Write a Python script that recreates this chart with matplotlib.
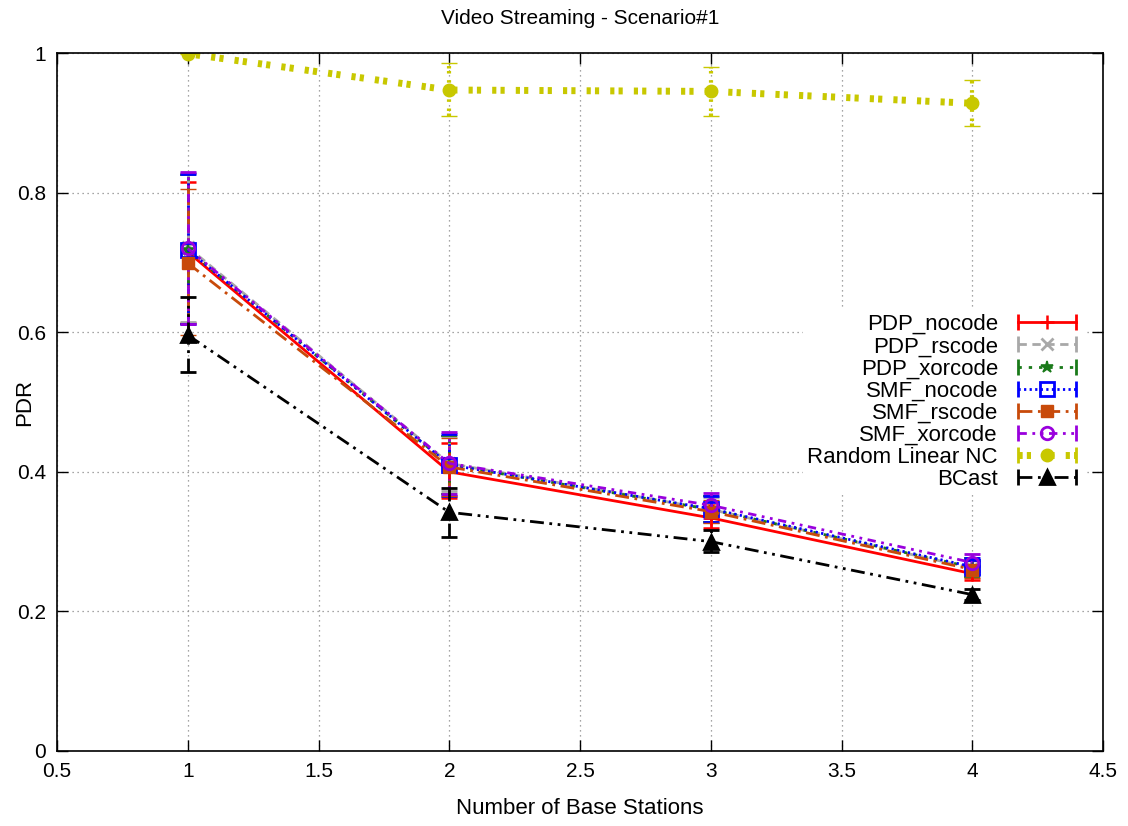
import matplotlib
matplotlib.use("Agg")
import matplotlib.pyplot as plt
from matplotlib.lines import Line2D
from matplotlib.legend_handler import HandlerLine2D, HandlerTuple

plt.rcParams['font.family'] = ['Liberation Sans', 'DejaVu Sans']

stations = [1, 2, 3, 4]

pdp_nocode = [0.715, 0.400, 0.334, 0.254]
pdp_nocode_lo = [0.613, 0.362, 0.320, 0.245]
pdp_nocode_hi = [0.815, 0.441, 0.352, 0.265]

pdp_rscode = [0.722, 0.412, 0.346, 0.262]
pdp_rscode_lo = [0.615, 0.372, 0.328, 0.250]
pdp_rscode_hi = [0.828, 0.452, 0.364, 0.274]

pdp_xorcode = [0.718, 0.410, 0.346, 0.263]
pdp_xorcode_lo = [0.612, 0.368, 0.328, 0.250]
pdp_xorcode_hi = [0.825, 0.452, 0.366, 0.276]

smf_nocode = [0.718, 0.410, 0.347, 0.264]
smf_nocode_lo = [0.612, 0.366, 0.328, 0.252]
smf_nocode_hi = [0.826, 0.454, 0.366, 0.276]

smf_rscode = [0.699, 0.407, 0.343, 0.260]
smf_rscode_lo = [0.596, 0.366, 0.326, 0.248]
smf_rscode_hi = [0.805, 0.448, 0.360, 0.272]

smf_xorcode = [0.720, 0.412, 0.352, 0.270]
smf_xorcode_lo = [0.612, 0.368, 0.334, 0.258]
smf_xorcode_hi = [0.830, 0.457, 0.370, 0.282]

rlnc = [0.999, 0.947, 0.945, 0.928]
rlnc_lo = [0.998, 0.910, 0.910, 0.895]
rlnc_hi = [1.000, 0.985, 0.980, 0.962]

bcast = [0.596, 0.342, 0.300, 0.224]
bcast_lo = [0.543, 0.307, 0.285, 0.216]
bcast_hi = [0.650, 0.377, 0.317, 0.232]

x_ticks = [0.5, 1, 1.5, 2, 2.5, 3, 3.5, 4, 4.5]
x_tick_labels = ["0.5", "1", "1.5", "2", "2.5", "3", "3.5", "4", "4.5"]
y_ticks = [0, 0.2, 0.4, 0.6, 0.8, 1]
y_tick_labels = ["0", "0.2", "0.4", "0.6", "0.8", "1"]

series = [
    ("PDP_nocode", pdp_nocode, pdp_nocode_lo, pdp_nocode_hi,
     dict(color="#ff0000", ls="-", lw=2.0, marker="+", ms=10, mew=1.8, mfc="none")),
    ("PDP_rscode", pdp_rscode, pdp_rscode_lo, pdp_rscode_hi,
     dict(color="#a8a8a8", ls=(0, (3, 2)), lw=2.0, marker="x", ms=8, mew=2, mfc="none")),
    ("PDP_xorcode", pdp_xorcode, pdp_xorcode_lo, pdp_xorcode_hi,
     dict(color="#1a7a1a", ls=(0, (1.2, 2.5)), lw=2.0, marker="*", ms=9, mew=1.2)),
    ("SMF_nocode", smf_nocode, smf_nocode_lo, smf_nocode_hi,
     dict(color="#0000ff", ls=(0, (0.8, 1.2)), lw=2.0, marker="s", ms=10, mew=2, mfc="none")),
    ("SMF_rscode", smf_rscode, smf_rscode_lo, smf_rscode_hi,
     dict(color="#c84a0a", ls=(0, (5, 2, 1, 2)), lw=2.0, marker="s", ms=9, mew=1)),
    ("SMF_xorcode", smf_xorcode, smf_xorcode_lo, smf_xorcode_hi,
     dict(color="#9900dd", ls=(0, (3, 2, 1, 2, 1, 2)), lw=2.0, marker="o", ms=9, mew=2, mfc="none")),
    ("Random Linear NC", rlnc, rlnc_lo, rlnc_hi,
     dict(color="#c8c800", ls=(0, (0.6, 0.6, 0.6, 1.6)), lw=5.0, marker="o", ms=9, mew=1)),
    ("BCast", bcast, bcast_lo, bcast_hi,
     dict(color="#000000", ls=(0, (5, 2, 1, 2, 1, 2)), lw=2.0, marker="^", ms=10, mew=2,
          mfc="#000000")),
]

fig = plt.figure(figsize=(11.28, 8.26), dpi=100)
ax = fig.add_axes([0.0505, 0.0908, 0.9275, 0.845])

handles, labels, hmap = [], [], {}
for name, vals, lo, hi, st in series:
    err = [[v - l for v, l in zip(vals, lo)], [h - v for v, h in zip(vals, hi)]]
    eb = ax.errorbar(stations, vals, yerr=err, capsize=6, capthick=2,
                     elinewidth=min(st["lw"], 3), **st)
    eb[2][0].set_linestyle(st["ls"] if st["ls"] != "-" else "solid")

    # legend sample: line with error caps at both ends plus the marker in the middle
    caps = Line2D([], [], color=st["color"], ls=st["ls"], lw=st["lw"],
                  marker="|", ms=12, mew=2)
    mark = Line2D([], [], color=st["color"], ls="none", marker=st["marker"],
                  ms=st["ms"], mew=st["mew"], mfc=st.get("mfc", st["color"]))
    hmap[caps] = HandlerLine2D(numpoints=2)
    hmap[mark] = HandlerLine2D(numpoints=1)
    handles.append((caps, mark))
    labels.append(name)

ax.set_xlim(0.5, 4.5)
ax.set_ylim(0, 1)
ax.set_xticks(x_ticks)
ax.set_xticklabels(x_tick_labels)
ax.set_yticks(y_ticks)
ax.set_yticklabels(y_tick_labels)
ax.tick_params(direction="in", length=8, width=1, top=True, right=True,
               labelsize=15, pad=8)
ax.grid(True, color="#888888", ls=(0, (1, 3)), lw=0.9)
ax.set_axisbelow(True)
for sp in ax.spines.values():
    sp.set_linewidth(1.2)

ax.set_xlabel("Number of Base Stations", fontsize=16, labelpad=12)
ax.set_ylabel("PDR", fontsize=16)
ax.yaxis.set_label_coords(-0.021, 0.5)
ax.set_title("Video Streaming - Scenario#1", fontsize=15, pad=21)

hmap[tuple] = HandlerTuple(ndivide=1, pad=0)
leg = ax.legend(handles, labels, handler_map=hmap,
                loc="center right", bbox_to_anchor=(0.995, 0.50), frameon=True,
                fontsize=16, markerfirst=False, handlelength=3.2, labelspacing=0.05,
                borderpad=0.2, handletextpad=0.6)
leg.get_frame().set_edgecolor("none")
leg.get_frame().set_facecolor("white")
leg.get_frame().set_alpha(1.0)
for t in leg.get_texts():
    t.set_ha("right")

fig.savefig("out.png", dpi=100)
